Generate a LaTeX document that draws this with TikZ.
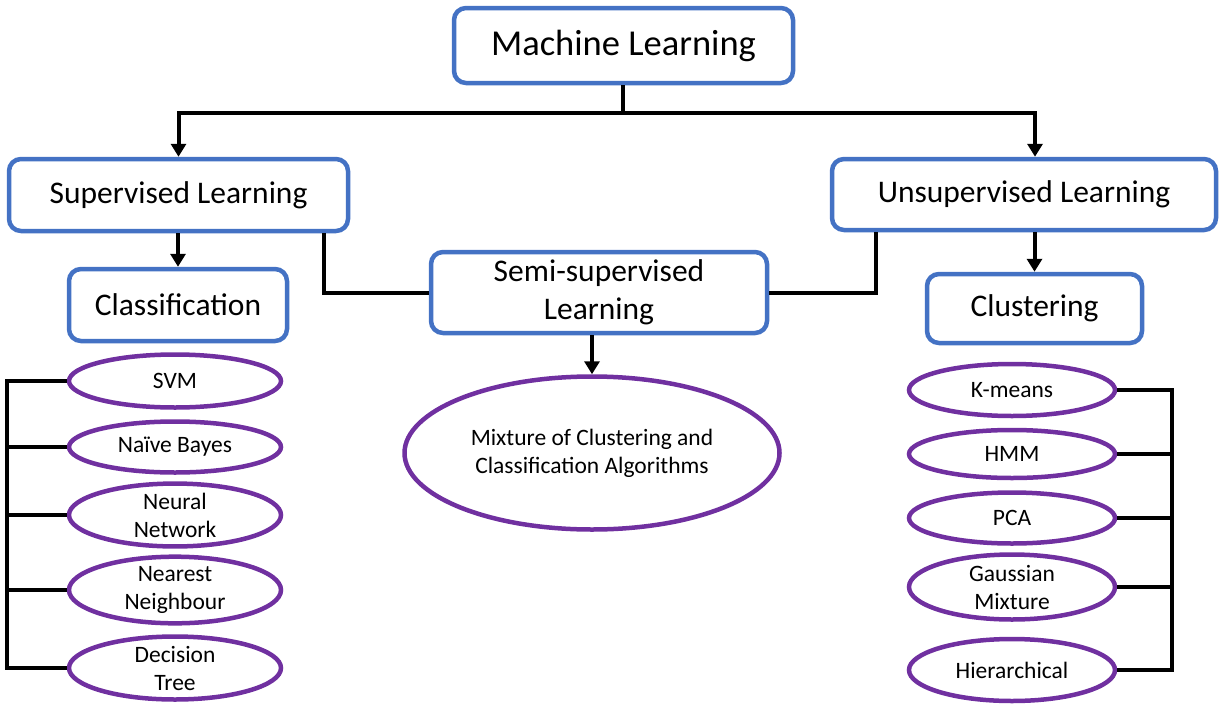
\documentclass[tikz,border=0pt]{standalone}
\usepackage{fontspec}
\setmainfont{Carlito}
\usetikzlibrary{arrows.meta,shapes.geometric}
\definecolor{boxblue}{HTML}{4472C4}
\definecolor{ellpurple}{HTML}{7030A0}
\begin{document}
\begin{tikzpicture}[x=1pt,y=-1pt,
  bluebox/.style={draw=boxblue,line width=4.5pt,rounded corners=12pt,fill=white,
    inner sep=0pt,align=center,font=\fontsize{31.5}{38}\selectfont},
  purpell/.style={draw=ellpurple,line width=4.5pt,ellipse,fill=white,inner sep=0pt,
    align=center,font=\fontsize{23.5}{28}\selectfont},
  conn/.style={line width=4pt,black,line join=miter},
  arr/.style={conn,-{Triangle[width=15pt,length=13pt]}}
]
\useasboundingbox (0,0) rectangle (1225,704);

% boxes
\node[bluebox,minimum width=339pt,minimum height=75pt,font=\fontsize{36.5}{44}\selectfont] (ml) at (623.5,45.5) {Machine Learning};
\node[bluebox,minimum width=339pt,minimum height=72pt] (sup) at (178.5,195) {Supervised Learning};
\node[bluebox,minimum width=384pt,minimum height=71pt] (unsup) at (1024,194.5) {Unsupervised Learning};
\node[bluebox,minimum width=218pt,minimum height=72pt] (cls) at (178,305) {Classification};
\node[bluebox,minimum width=336pt,minimum height=81pt] (semi) at (599,292.5) {Semi-supervised\\Learning};
\node[bluebox,minimum width=215pt,minimum height=69pt] (clu) at (1034.5,308.5) {Clustering};

% left ellipses
\node[purpell,minimum width=212pt,minimum height=53pt] (svm) at (175,381) {SVM};
\node[purpell,minimum width=212pt,minimum height=51pt] (nb) at (175,447) {Naïve Bayes};
\node[purpell,minimum width=212pt,minimum height=61pt] (nn) at (175,515) {Neural\\Network};
\node[purpell,minimum width=212pt,minimum height=62pt] (near) at (175,590) {Nearest\\Neighbour};
\node[purpell,minimum width=212pt,minimum height=63pt] (dt) at (175,668) {Decision\\Tree};

% centre ellipse
\node[purpell,minimum width=375pt,minimum height=153pt] (mix) at (592,453) {Mixture of Clustering and\\Classification Algorithms};

% right ellipses
\node[purpell,minimum width=206pt,minimum height=52pt] (km) at (1012,390) {K-means};
\node[purpell,minimum width=206pt,minimum height=48pt] (hmm) at (1012,454) {HMM};
\node[purpell,minimum width=206pt,minimum height=51pt] (pca) at (1012,518) {PCA};
\node[purpell,minimum width=206pt,minimum height=65pt] (gm) at (1012,587) {Gaussian\\Mixture};
\node[purpell,minimum width=206pt,minimum height=62pt] (hier) at (1012,670) {Hierarchical};

% top split
\coordinate (split) at (623,113);
\coordinate (unsupin) at (1035,157);
\draw[conn] (ml.south -| split) -- (split);
\draw[arr] (split) -| (sup.north);
\draw[arr] (split) -| (unsupin |- unsup.north);

% down arrows
\draw[arr] (sup.south -| cls.north) -- (cls.north);
\draw[arr] (unsup.south -| clu.north) -- (clu.north);
\draw[arr] (semi.south -| mix.north) -- (mix.north);

% semi links
\draw[conn] ([xshift=-26pt]sup.south east) |- (semi.west);
\draw[conn] ([xshift=46pt]unsup.south west) |- (semi.east);

% left trunk
\coordinate (ltrunk) at (7,0);
\draw[conn] (svm.west) -- (svm.west -| ltrunk) -- (dt.west -| ltrunk) -- (dt.west);
\draw[conn] (nb.west -| ltrunk) -- (nb.west);
\draw[conn] (nn.west -| ltrunk) -- (nn.west);
\draw[conn] (near.west -| ltrunk) -- (near.west);

% right trunk
\coordinate (rtrunk) at (1172,0);
\draw[conn] (km.east) -- (km.east -| rtrunk) -- (hier.east -| rtrunk) -- (hier.east);
\draw[conn] (hmm.east -| rtrunk) -- (hmm.east);
\draw[conn] (pca.east -| rtrunk) -- (pca.east);
\draw[conn] (gm.east -| rtrunk) -- (gm.east);
\end{tikzpicture}
\end{document}
